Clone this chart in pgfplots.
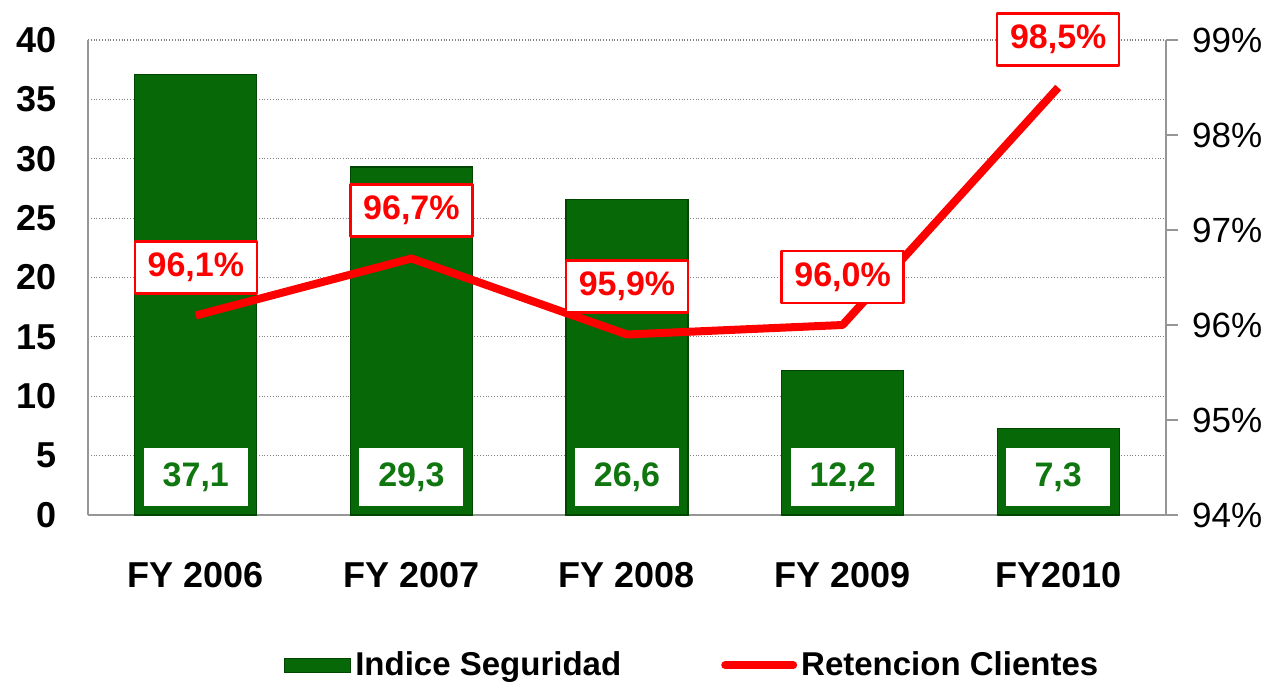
\documentclass[border=0pt]{standalone}
\usepackage{pgfplots}
\pgfplotsset{compat=1.18}
\usepackage{fontspec}
\setmainfont{Liberation Sans}
\definecolor{bargreen}{RGB}{6,104,6}
\definecolor{bardark}{RGB}{0,70,0}
\definecolor{valgreen}{RGB}{16,118,16}
\definecolor{axgray}{RGB}{150,150,150}
\definecolor{pred}{RGB}{255,0,0}
\begin{document}
\begin{tikzpicture}
\begin{axis}[
  scale only axis, width=539pt, height=237.5pt,
  xmin=-0.5, xmax=4.5, ymin=0, ymax=40,
  xtick={0,...,4}, xticklabels={FY 2006, FY 2007, FY 2008, FY 2009, FY2010},
  ytick={0,5,...,40},
  axis x line*=bottom, axis y line*=left,
  axis line style={axgray, line width=1pt, -},
  ymajorgrids, grid style={densely dotted, gray, line width=0.6pt},
  major tick length=0pt,
  tick label style={font=\fontsize{18}{20}\selectfont\bfseries},
  /pgf/number format/assume math mode=true,
  yticklabel style={xshift=-12pt},
  xticklabel style={yshift=-20pt},
  clip=false,
  legend columns=2,
  legend style={draw=none, fill=none, at={(0.176,-0.316)}, anchor=west,
    font=\fontsize{16.5}{18}\selectfont\bfseries,
    /tikz/every even column/.append style={column sep=48pt}},
]
\addplot[ybar, bar width=61pt, fill=bargreen, draw=bardark, line width=0.6pt,
  legend image code/.code={\draw[fill=bargreen, draw=bardark] (0pt,-3.5pt) rectangle (33pt,3.5pt);}]
  coordinates {(0,37.1) (1,29.3) (2,26.6) (3,12.2) (4,7.3)};
\addlegendentry{Indice Seguridad}
\addlegendimage{legend image code/.code={\draw[pred, line width=4pt, line cap=round] (0pt,0pt)--(34pt,0pt);}}
\addlegendentry{Retencion Clientes}
\addplot[draw=none, mark=none, forget plot, point meta=explicit,
  nodes near coords={\pgfmathprintnumber[fixed,fixed zerofill,precision=1,use comma]{\pgfplotspointmeta}},
  every node near coord/.append style={anchor=center, fill=white, text=valgreen,
    font=\fontsize{17}{19}\selectfont\bfseries, minimum width=52pt, minimum height=29pt, inner sep=0pt}]
  coordinates {(0,3.2) [37.1] (1,3.2) [29.3] (2,3.2) [26.6] (3,3.2) [12.2] (4,3.2) [7.3]};
\coordinate (bl) at (rel axis cs:0,0);
\coordinate (tr) at (rel axis cs:1,1);
\end{axis}
\begin{axis}[
  scale only axis, width=539pt, height=237.5pt,
  xmin=-0.5, xmax=4.5, ymin=94, ymax=99,
  axis x line=none, axis y line*=right,
  axis line style={axgray, line width=1pt, -},
  ytick={94,...,99}, yticklabel={\pgfmathprintnumber{\tick}\%},
  tick style={axgray, line width=1pt}, major tick length=6pt, tick align=outside,
  yticklabel style={font=\fontsize{17.5}{20}\selectfont, xshift=3.5pt},
  /pgf/number format/assume math mode=true,
  clip=false,
]
\addplot[pred, line width=4pt, line join=round, mark=none,
  nodes near coords={\pgfmathprintnumber[fixed,fixed zerofill,precision=1,use comma]{\pgfplotspointmeta}\%},
  every node near coord/.append style={anchor=center, yshift=24pt, fill=white, draw=pred, line width=1.2pt,
    text=pred, font=\fontsize{17}{19}\selectfont\bfseries, minimum width=61pt, minimum height=26pt, inner sep=0pt}]
  coordinates {(0,96.1) (1,96.7) (2,95.9) (3,96.0) (4,98.5)};
\end{axis}
\pgfresetboundingbox
\path ([shift={(-44pt,-87pt)}]bl) rectangle ([shift={(52pt,20pt)}]tr);
\end{tikzpicture}
\end{document}
